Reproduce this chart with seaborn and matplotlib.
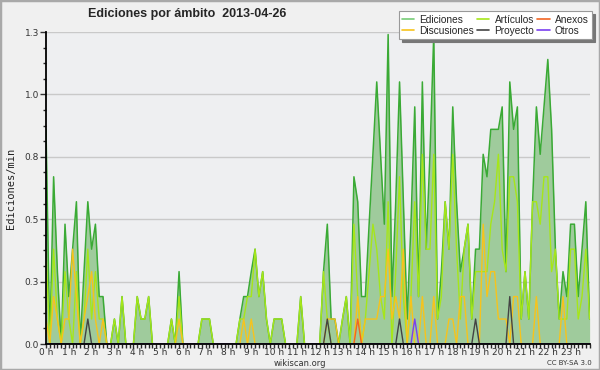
import numpy as np
import pandas as pd
import matplotlib
matplotlib.use("Agg")
import matplotlib.pyplot as plt
from matplotlib.lines import Line2D
from matplotlib.patches import Rectangle
import seaborn as sns

# Ediciones por minuto, un valor cada 10 minutos (6 por hora)
ediciones = [
    0.86, 0, 0.67, 0.29, 0, 0.48,        # 0 h
    0.19, 0.38, 0.57, 0, 0.29, 0.57,     # 1 h
    0.38, 0.48, 0.19, 0.19, 0, 0,        # 2 h
    0.1, 0, 0.19, 0, 0, 0,               # 3 h
    0.19, 0.1, 0.1, 0.19, 0, 0,          # 4 h
    0, 0, 0, 0.1, 0, 0.29,               # 5 h
    0, 0, 0, 0, 0, 0.1,                  # 6 h
    0.1, 0.1, 0, 0, 0, 0,                # 7 h
    0, 0, 0, 0.1, 0.19, 0.19,            # 8 h
    0.29, 0.38, 0.19, 0.29, 0.1, 0,      # 9 h
    0.1, 0.1, 0.1, 0, 0, 0,              # 10 h
    0, 0.19, 0, 0, 0, 0,                 # 11 h
    0, 0.29, 0.48, 0.1, 0.1, 0,          # 12 h
    0.1, 0.19, 0, 0.67, 0.57, 0.19,      # 13 h
    0.19, 0.48, 0.76, 1.05, 0.76, 0.48,  # 14 h
    1.24, 0.19, 0.57, 1.05, 0.57, 0.1,   # 15 h
    0.48, 0.95, 0.19, 1.05, 0.38, 0.76,  # 16 h
    1.24, 0.1, 0.29, 0.57, 0.38, 0.95,   # 17 h
    0.57, 0.29, 0.38, 0.48, 0.1, 0.38,   # 18 h
    0.38, 0.76, 0.67, 0.86, 0.86, 0.86,  # 19 h
    0.95, 0.29, 1.05, 0.86, 0.95, 0.1,   # 20 h
    0.29, 0.1, 0.57, 0.95, 0.76, 0.95,   # 21 h
    1.14, 0.86, 0.38, 0.1, 0.29, 0.19,   # 22 h
    0.48, 0.48, 0.19, 0.38, 0.57, 0.1,   # 23 h
]

articulos = [
    0.38, 0, 0.38, 0.1, 0, 0.29,
    0.1, 0, 0.29, 0, 0.1, 0.38,
    0.1, 0.29, 0.1, 0.1, 0, 0,
    0.1, 0, 0.19, 0, 0, 0,
    0.19, 0.1, 0.1, 0.19, 0, 0,
    0, 0, 0, 0.1, 0, 0.19,
    0, 0, 0, 0, 0, 0.1,
    0.1, 0.1, 0, 0, 0, 0,
    0, 0, 0, 0.1, 0.1, 0.19,
    0.19, 0.38, 0.19, 0.29, 0.1, 0,
    0.1, 0.1, 0.1, 0, 0, 0,
    0, 0.19, 0, 0, 0, 0,
    0, 0.29, 0.1, 0, 0, 0,
    0.1, 0.19, 0, 0.48, 0.19, 0,
    0.1, 0.29, 0.48, 0.38, 0.19, 0.1,
    0.57, 0, 0.29, 0.67, 0.19, 0,
    0.19, 0.57, 0.19, 0.76, 0.38, 0.38,
    0.76, 0.1, 0.19, 0.57, 0.38, 0.76,
    0.38, 0.1, 0.38, 0.48, 0.1, 0.29,
    0.29, 0.29, 0.29, 0.48, 0.57, 0.76,
    0.38, 0.29, 0.67, 0.67, 0.57, 0.1,
    0.29, 0.1, 0.57, 0.57, 0.48, 0.67,
    0.67, 0.29, 0.38, 0.1, 0.1, 0.1,
    0.38, 0.38, 0.1, 0.19, 0.38, 0.1,
]

discusiones = [
    0.1, 0, 0.19, 0.1, 0, 0.1,
    0.1, 0.38, 0.19, 0, 0.1, 0.19,
    0.29, 0.1, 0, 0.1, 0, 0,
    0, 0, 0, 0, 0, 0,
    0, 0, 0, 0, 0, 0,
    0, 0, 0, 0, 0, 0.1,
    0, 0, 0, 0, 0, 0,
    0, 0, 0, 0, 0, 0,
    0, 0, 0, 0, 0.1, 0,
    0.1, 0, 0, 0, 0, 0,
    0, 0, 0, 0, 0, 0,
    0, 0, 0, 0, 0, 0,
    0, 0, 0.1, 0.1, 0.1, 0,
    0, 0, 0, 0, 0.19, 0,
    0.1, 0.1, 0.1, 0.1, 0.19, 0.19,
    0.38, 0.1, 0.19, 0.1, 0.38, 0,
    0.19, 0, 0, 0.19, 0, 0,
    0.19, 0, 0, 0, 0.1, 0.1,
    0, 0.19, 0.19, 0, 0, 0,
    0, 0.48, 0.19, 0.29, 0.29, 0.1,
    0.1, 0.1, 0, 0.19, 0.19, 0,
    0, 0, 0, 0.19, 0, 0,
    0, 0, 0, 0, 0.19, 0,
    0, 0, 0, 0, 0, 0,
]

# series casi vacias: {intervalo de 10 min: valor}
proyecto_picos = {11: 0.1, 74: 0.1, 93: 0.1, 113: 0.1, 122: 0.19}
anexos_picos = {82: 0.1}
otros_picos = {97: 0.1}

hour_labels = [f"{h} h" for h in range(24)]
ytick_values = [0, 0.25, 0.5, 0.75, 1.0, 1.25]
ytick_labels = ["0.0", "0.3", "0.5", "0.8", "1.0", "1.3"]

colores = {
    "Ediciones": "#3aaa35",
    "Artículos": "#a6e619",
    "Discusiones": "#f7c31c",
    "Proyecto": "#444444",
    "Anexos": "#f26522",
    "Otros": "#7a3ff0",
}
color_relleno = "#9fcb9c"

n = len(ediciones)
horas = np.arange(n) / 6


def serie_dispersa(picos):
    valores = np.zeros(n)
    for k, v in picos.items():
        valores[k] = v
    return valores


df = pd.DataFrame({
    "hora": horas,
    "Ediciones": ediciones,
    "Artículos": articulos,
    "Discusiones": discusiones,
    "Anexos": serie_dispersa(anexos_picos),
    "Proyecto": serie_dispersa(proyecto_picos),
    "Otros": serie_dispersa(otros_picos),
})

sns.set_style("white")
plt.rcParams["font.family"] = ["DejaVu Sans"]

fig = plt.figure(figsize=(6, 3.7), dpi=100, facecolor="#f0f0f0")
fig.patches.append(Rectangle((0, 0), 1, 1, transform=fig.transFigure, fill=False,
                             edgecolor="#a9a9a9", linewidth=2.5, zorder=0))
ax = fig.add_axes([46 / 600, 26 / 370, 544 / 600, 312 / 370])
ax.set_facecolor("#eeeff1")

# relleno del total de ediciones
ax.fill_between(df["hora"], df["Ediciones"], color=color_relleno, linewidth=0, zorder=1)
sns.lineplot(data=df, x="hora", y="Ediciones", ax=ax, color=colores["Ediciones"],
             linewidth=1.1, zorder=3)
for nombre in ["Artículos", "Discusiones", "Anexos", "Proyecto", "Otros"]:
    sns.lineplot(data=df, x="hora", y=nombre, ax=ax, color=colores[nombre],
                 linewidth=1.0, zorder=4)

ax.set_xlim(0, 23.85)
ax.set_ylim(0, 1.25)

ax.set_yticks(ytick_values)
ax.set_yticklabels(ytick_labels)
ax.set_yticks(np.arange(0, 1.26, 0.0625), minor=True)
ax.set_xticks(range(24))
ax.set_xticklabels(hour_labels)
ax.set_xticks(np.arange(0, 23.9, 1 / 6), minor=True)

ax.tick_params(axis="y", which="major", direction="out", length=4, width=1,
               labelsize=6.5, pad=1, colors="#333333", left=True)
ax.tick_params(axis="y", which="minor", direction="out", length=2, width=1, left=True)
ax.tick_params(axis="x", which="major", direction="out", length=3, width=1,
               labelsize=6.5, pad=0, colors="#333333", bottom=True)
ax.tick_params(axis="x", which="minor", direction="out", length=3, width=1, bottom=True)

ax.yaxis.grid(True, color="#c9c9c9", linewidth=1)
ax.xaxis.grid(False)
ax.set_axisbelow(True)
for lado in ["top", "right"]:
    ax.spines[lado].set_visible(False)
for lado in ["left", "bottom"]:
    ax.spines[lado].set_color("black")
    ax.spines[lado].set_linewidth(1.3)
    ax.spines[lado].set_zorder(6)

ax.set_xlabel("")
ax.set_ylabel("")
fig.text(11 / 600, 1 - 188 / 370, "Ediciones/min", rotation=90, ha="center", va="center",
         fontsize=7.5, family="DejaVu Sans Mono", color="#222222")

fig.text(187 / 600, 1 - 14 / 370, "Ediciones por ámbito  2013-04-26", ha="center",
         va="center", fontsize=9, fontweight="bold", family="Liberation Sans")
fig.text(300 / 600, 1 - 363.5 / 370, "wikiscan.org", ha="center", va="center",
         fontsize=6, color="#333333")
fig.text(592 / 600, 1 - 363 / 370, "CC BY-SA 3.0", ha="right", va="center",
         fontsize=5, color="#333333")

orden = ["Ediciones", "Discusiones", "Artículos", "Proyecto", "Anexos", "Otros"]
handles = [Line2D([], [], color=colores[k], linewidth=1.2) for k in orden]
handles[0] = Line2D([], [], color="#77cc77", linewidth=1.2)
leg = fig.legend(handles, orden, ncol=3, loc="upper right",
                 bbox_to_anchor=(592 / 600, 1 - 11 / 370),
                 prop={"family": "Liberation Sans", "size": 7.3},
                 frameon=True, fancybox=False, shadow={"color": "#777777", "alpha": 1},
                 handlelength=1.2, handletextpad=0.5, columnspacing=0.3,
                 labelspacing=0.1, borderpad=0.35, borderaxespad=0)
leg.get_frame().set_edgecolor("#999999")
leg.get_frame().set_facecolor("white")
leg.get_frame().set_alpha(1)
leg.get_frame().set_linewidth(0.8)

fig.savefig("out.png", dpi=100, facecolor=fig.get_facecolor())
